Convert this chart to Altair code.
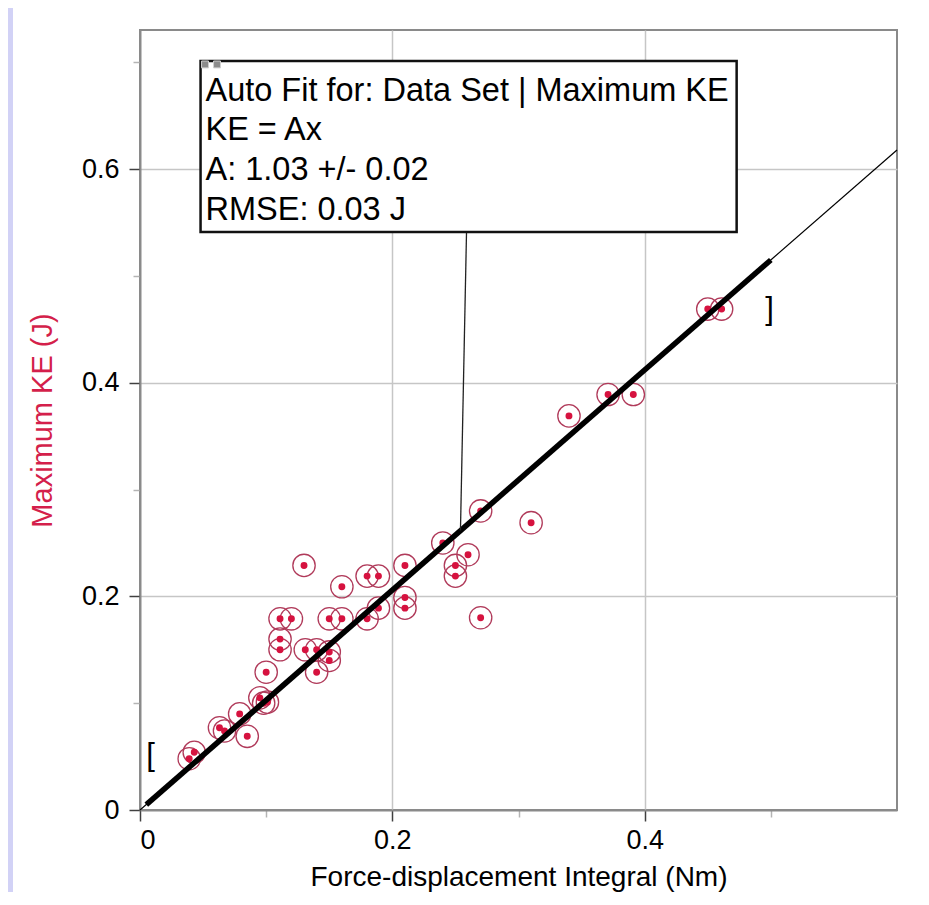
import altair as alt
import pandas as pd

# ---- data ----
x_vals = [0.039, 0.043, 0.063, 0.067, 0.079, 0.085, 0.095, 0.098, 0.101, 0.100,
          0.111, 0.120, 0.111, 0.111, 0.131, 0.140, 0.150, 0.150, 0.140, 0.130,
          0.150, 0.160, 0.160, 0.180, 0.180, 0.189, 0.189, 0.210, 0.210, 0.210,
          0.240, 0.270, 0.260, 0.250, 0.250, 0.310, 0.270, 0.340, 0.371, 0.391,
          0.450, 0.461]
y_vals = [0.048, 0.054, 0.077, 0.074, 0.090, 0.069, 0.105, 0.100, 0.101, 0.129,
          0.179, 0.179, 0.160, 0.150, 0.150, 0.150, 0.148, 0.140, 0.129, 0.229,
          0.179, 0.179, 0.209, 0.179, 0.219, 0.219, 0.189, 0.229, 0.199, 0.189,
          0.250, 0.280, 0.239, 0.229, 0.219, 0.269, 0.180, 0.369, 0.389, 0.389,
          0.469, 0.469]

fit_x = [0.005, 0.5]
fit_y = [0.005, 0.515]
ext_x = [0.0, 0.6]
ext_y = [0.0, 0.618]
leader_x = [0.2588, 0.254]
leader_y = [0.5412, 0.2616]
box_x = [0.048]
box_x2 = [0.4729]
box_y = [0.7013]
box_y2 = [0.5412]
icon_x = [0.0488, 0.0583]
icon_x2 = [0.0543, 0.0638]
icon_y = [0.7013, 0.7013]
icon_y2 = [0.6948, 0.6948]
box_lines = ["Auto Fit for: Data Set | Maximum KE", "KE = Ax", "A: 1.03 +/- 0.02", "RMSE: 0.03 J"]
box_line_x = [0.0519, 0.0519, 0.0519, 0.0519]
box_line_y = [0.6639, 0.6273, 0.5899, 0.5524]
bracket_text = ["[", "]"]
bracket_x = [0.0083, 0.499]
bracket_y = [0.0421, 0.4597]

x_ticks = [0, 0.1, 0.2, 0.3, 0.4, 0.5]
y_ticks = [0, 0.1, 0.2, 0.3, 0.4, 0.5, 0.6, 0.7]
XDOM = [0, 0.6]
YDOM = [0, 0.7303]

FONT = "Liberation Sans"
RED = "#d41f4b"
minor = "round(datum.value*10) % 2 == 1"


def axis(title, vals, title_color, title_pad, label_pad, title_size):
    return alt.Axis(
        values=vals, format="~g",
        labelExpr=f"{minor} ? '' : datum.label",
        title=title, titleColor=title_color, titleFont=FONT, titleFontSize=title_size,
        titleFontWeight="normal", titlePadding=title_pad,
        labelFont=FONT, labelFontSize=27, labelColor="black", labelPadding=label_pad,
        grid=True, gridColor="#c6c6c6", gridWidth=1.5,
        gridOpacity={"condition": {"test": f"{minor} || datum.value == 0", "value": 0}, "value": 1},
        tickSize={"condition": {"test": minor, "value": 7}, "value": 11},
        tickColor={"condition": {"test": minor, "value": "#b4b4b4"}, "value": "#404040"},
        tickWidth=1.5, domainColor="#8a8a8a", domainWidth=2,
    )


xaxis = axis("Force-displacement Integral (Nm)", x_ticks, "black", 10, 6, 28)
yaxis = axis("Maximum KE (J)", y_ticks, RED, 24, 10, 29)


def X(f="x"):
    return alt.X(f"{f}:Q", scale=alt.Scale(domain=XDOM, nice=False, zero=False), axis=xaxis)


def Y(f="y"):
    return alt.Y(f"{f}:Q", scale=alt.Scale(domain=YDOM, nice=False, zero=False), axis=yaxis)


pts = pd.DataFrame({"x": x_vals, "y": y_vals})
fit = pd.DataFrame({"x": fit_x, "y": fit_y})
ext = pd.DataFrame({"x": ext_x, "y": ext_y})
lead = pd.DataFrame({"x": leader_x, "y": leader_y})
box = pd.DataFrame({"x": box_x, "x2": box_x2, "y": box_y, "y2": box_y2})
icons = pd.DataFrame({"x": icon_x, "x2": icon_x2, "y": icon_y, "y2": icon_y2})
txt = pd.DataFrame({"x": box_line_x, "y": box_line_y, "t": box_lines})
brk = pd.DataFrame({"x": bracket_x, "y": bracket_y, "t": bracket_text})
one = pd.DataFrame({"a": [0]})

strip = alt.Chart(one).mark_rect(color="#d2d2f6").encode(
    x=alt.value(-132), x2=alt.value(-127), y=alt.value(-22), y2=alt.value(862))

rings = alt.Chart(pts).mark_point(shape="circle", size=500, filled=False,
                                  stroke="#b03a5a", strokeWidth=1.3, opacity=1).encode(x=X(), y=Y())
dots = alt.Chart(pts).mark_circle(size=48, color="#d6123f", opacity=1).encode(x=X(), y=Y())
thin = alt.Chart(ext).mark_line(color="black", strokeWidth=1.2).encode(x=X(), y=Y())
thick = alt.Chart(fit).mark_line(color="black", strokeWidth=5.5).encode(x=X(), y=Y())
leader = alt.Chart(lead).mark_line(color="#222", strokeWidth=1.3).encode(x=X(), y=Y())
brackets = alt.Chart(brk).mark_text(font=FONT, fontSize=31, color="black",
                                    align="center", baseline="alphabetic").encode(
    x=X(), y=Y(), text="t:N")
boxr = alt.Chart(box).mark_rect(fill="white", stroke="#111", strokeWidth=2.5).encode(
    x=X(), x2="x2:Q", y=Y(), y2="y2:Q")
iconr = alt.Chart(icons).mark_rect(fill="#8c8c8c", stroke="#d0d0d0", strokeWidth=1).encode(
    x=X(), x2="x2:Q", y=Y(), y2="y2:Q")
boxt = alt.Chart(txt).mark_text(font=FONT, fontSize=32.5, color="black",
                                align="left", baseline="alphabetic").encode(
    x=X(), y=Y(), text="t:N")

chart = alt.layer(strip, rings, dots, thin, thick, leader, brackets, boxr, iconr, boxt).properties(
    width=757, height=780,
    padding={"left": 132, "top": 22, "right": 20, "bottom": 82},
    autosize=alt.AutoSizeParams(type="none"),
    background="white",
).configure_view(stroke="#8a8a8a", strokeWidth=2, fill="white")

chart.save("out.html", embed_options={"renderer": "svg", "actions": False})
